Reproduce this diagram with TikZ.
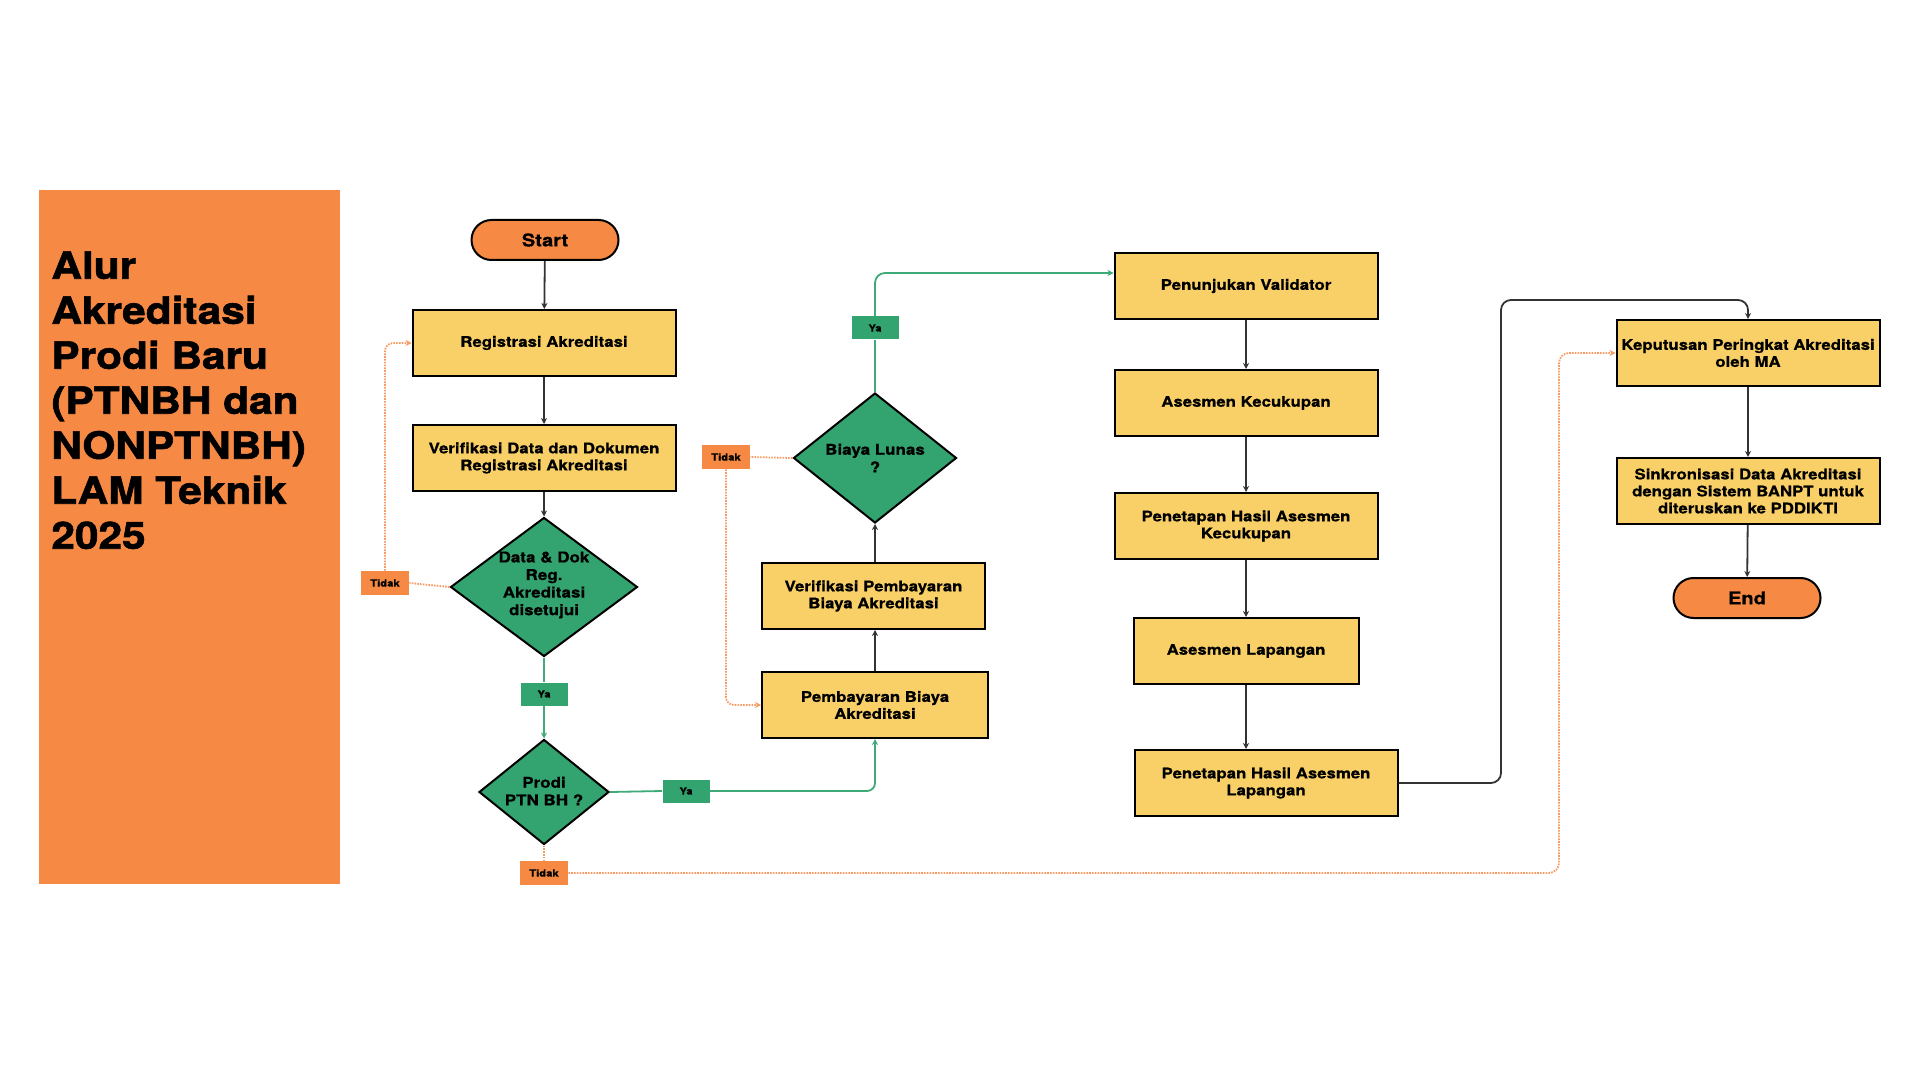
\documentclass[tikz,border=0pt]{standalone}
\usepackage{fontspec}
\setmainfont{TeX Gyre Heros}[FakeStretch=1.15, BoldFeatures={FakeBold=0.6}]
\newfontfamily\titlefont{TeX Gyre Heros}[FakeStretch=1.13, BoldFeatures={FakeBold=1.6}]
\usetikzlibrary{shapes.geometric,arrows.meta}
\definecolor{orng}{HTML}{F68A44}
\definecolor{boxy}{HTML}{F9D067}
\definecolor{grn}{HTML}{33A36F}
\definecolor{grnline}{HTML}{3DAA78}
\definecolor{dotorng}{HTML}{F79B62}
\definecolor{darkline}{HTML}{333333}
\tikzset{
  box/.style={draw=black, line width=1pt, fill=boxy, minimum width=131.5pt, minimum height=33pt,
    align=center, inner sep=0pt, font=\bfseries\fontsize{7.3pt}{8.5pt}\selectfont},
  term/.style={draw=black, line width=1pt, fill=orng, rounded corners=10pt, minimum width=73.5pt,
    minimum height=20pt, inner sep=0pt, font=\bfseries\fontsize{8.75pt}{10pt}\selectfont},
  diam/.style={diamond, draw=black, line width=1pt, fill=grn, inner sep=0pt},
  dtext/.style={align=center, inner sep=0pt, font=\bfseries\fontsize{7.4pt}{8.8pt}\selectfont},
  tlab/.style={fill=orng, minimum width=24pt, minimum height=12pt, inner sep=0pt,
    font=\bfseries\fontsize{4.9pt}{5pt}\selectfont},
  ylab/.style={fill=grn, minimum width=23.5pt, minimum height=11.5pt, inner sep=0pt,
    font=\bfseries\fontsize{4.9pt}{5pt}\selectfont},
  arr/.style={draw=darkline, line width=0.9pt, -{Stealth[length=3pt,width=3pt]}},
  garr/.style={draw=grnline, line width=0.9pt, -{Stealth[length=3pt,width=3pt]}},
  gline/.style={draw=grnline, line width=0.9pt},
  odot/.style={draw=dotorng, line width=0.9pt, dash pattern=on 0.8pt off 0.6pt},
  oarr/.style={odot, -{Stealth[length=3pt,width=3pt]}},
}
\begin{document}
\begin{tikzpicture}[x=0.5pt,y=-0.5pt]
\useasboundingbox[fill=white] (0,0) rectangle (1920,1080);
% title panel
\fill[orng] (39,190) rectangle (340,884);
\node[anchor=north west, align=left, inner sep=0pt,
  font=\titlefont\bfseries\fontsize{18.75pt}{22.5pt}\selectfont] (title) at (51,251)
  {Alur\\Akreditasi\\Prodi Baru\\(PTNBH dan\\NONPTNBH)\\LAM Teknik\\2025};

% column 1
\node[term] (start) at (545,240) {Start};
\node[box] (reg) at (544,343) {Registrasi Akreditasi};
\node[box] (ver) at (544,458) {Verifikasi Data dan Dokumen\\Registrasi Akreditasi};
\node[diam, minimum width=93.5pt, minimum height=69.5pt] (d1) at (544,587) {};
\node[dtext] (d1t) at (544,585) {Data \& Dok\\Reg.\\Akreditasi\\disetujui};
\node[ylab] (ya1) at (544,694) {Ya};
\node[diam, minimum width=65pt, minimum height=52.5pt] (d2) at (544,792) {};
\node[dtext] (d2t) at (544,791) {Prodi\\PTN BH ?};
\node[tlab] (t1) at (385,583) {Tidak};
\node[tlab] (t2) at (544,873) {Tidak};
\node[ylab] (ya2) at (686,791) {Ya};

% column 2
\node[box, minimum width=113pt] (pay) at (875,705) {Pembayaran Biaya\\Akreditasi};
\node[box, minimum width=111.5pt] (vpay) at (873.5,596) {Verifikasi Pembayaran\\Biaya Akreditasi};
\node[diam, minimum width=81.5pt, minimum height=65pt] (d3) at (875,458) {};
\node[dtext] (d3t) at (875,458) {Biaya Lunas\\?};
\node[tlab] (t3) at (726,457) {Tidak};
\node[ylab] (ya3) at (875,328) {Ya};

% column 3
\node[box] (pv) at (1246,286) {Penunjukan Validator};
\node[box] (ak) at (1246,403) {Asesmen Kecukupan};
\node[box] (phk) at (1246,526) {Penetapan Hasil Asesmen\\Kecukupan};
\node[box, minimum width=112.5pt] (al) at (1246,651) {Asesmen Lapangan};
\node[box] (phl) at (1266,783) {Penetapan Hasil Asesmen\\Lapangan};

% column 4
\node[box] (kp) at (1748,353) {Keputusan Peringkat Akreditasi\\oleh MA};
\node[box] (sk) at (1748,491) {Sinkronisasi Data Akreditasi\\dengan Sistem BANPT untuk\\diteruskan ke PDDIKTI};
\node[term] (end) at (1747,598) {End};

\coordinate (r1) at (1501,300);
\coordinate (c1) at (1559,353);

% connectors
\draw[arr] (start) -- (reg);
\draw[arr] (reg) -- (ver);
\draw[arr] (ver) -- (d1.north);
\draw[gline] (d1.south) -- (ya1.north);
\draw[garr] (ya1.south) -- (d2.north);
\draw[odot] (d1.west) -- (t1.east);
\draw[oarr, rounded corners=4pt] (t1.north) |- (reg.west);
\draw[gline] (d2.east) -- (ya2.west);
\draw[garr, rounded corners=4pt] (ya2.east) -| (pay.south);
\draw[arr] (pay.north) -- (pay.north |- vpay.south);
\draw[arr] (vpay.north -| d3.south) -- (d3.south);
\draw[odot] (d3.west) -- (t3.east);
\draw[oarr, rounded corners=4pt] (t3.south) |- (pay.west);
\draw[gline] (d3.north) -- (ya3.south);
\draw[garr, rounded corners=5pt] (ya3.north) |- (pv.west |- 0,273);
\draw[arr] (pv) -- (ak);
\draw[arr] (ak) -- (phk);
\draw[arr] (phk) -- (al);
\draw[arr] (al.south) -- (al.south |- phl.north);
\draw[arr, rounded corners=5pt] (phl.east) -| (r1) -| (kp.north);
\draw[arr] (kp) -- (sk);
\draw[arr] (sk) -- (end);
\draw[odot] (d2.south) -- (t2.north);
\draw[oarr, rounded corners=5pt] (t2.east) -| (c1) -- (kp.west);
\end{tikzpicture}
\end{document}
